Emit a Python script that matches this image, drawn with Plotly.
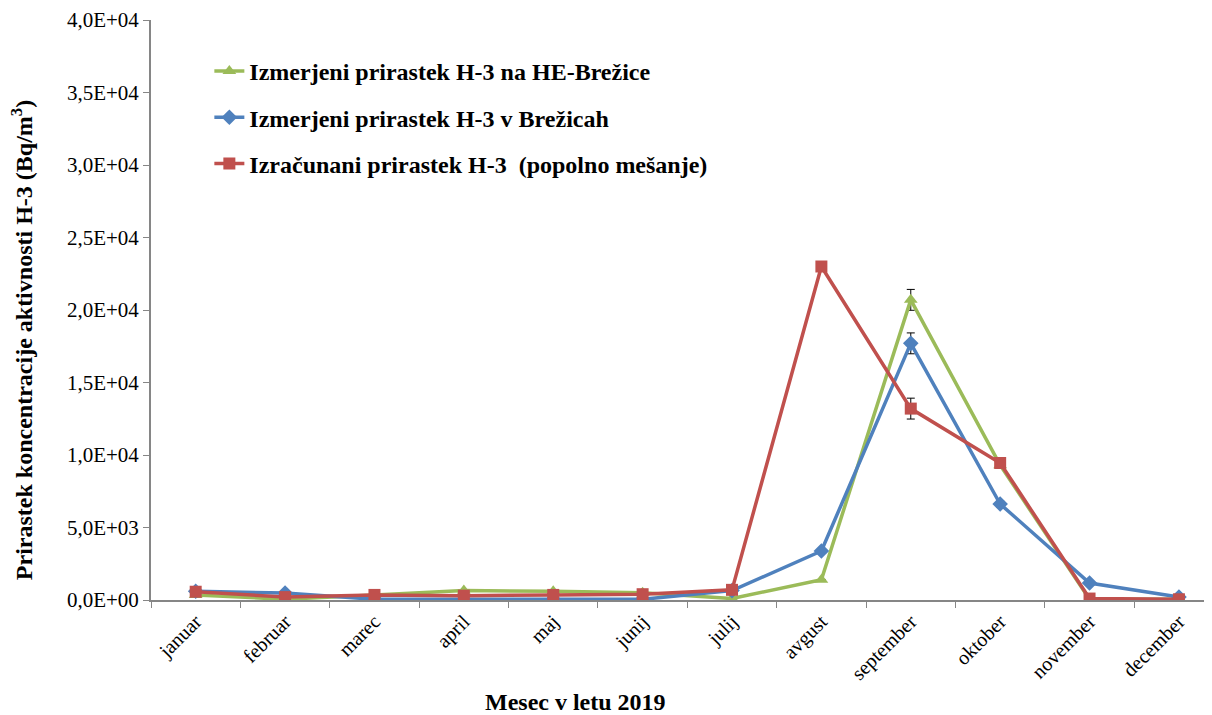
import plotly.graph_objects as go

months = ["januar", "februar", "marec", "april", "maj", "junij", "julij",
          "avgust", "september", "oktober", "november", "december"]
he_brezice = [350, 50, 350, 650, 600, 500, 100, 1400, 20700, 9300, 50, 50]
he_err = [0, 0, 0, 0, 0, 0, 0, 0, 720, 0, 0, 0]
brezice = [600, 480, 50, 30, 50, 50, 650, 3380, 17700, 6620, 1170, 200]
brezice_err = [0, 0, 0, 0, 0, 0, 0, 0, 720, 200, 0, 0]
izracunani = [570, 200, 350, 300, 350, 400, 700, 23000, 13200, 9450, 100, 50]
izracunani_err = [0, 0, 0, 0, 0, 0, 0, 0, 720, 0, 0, 0]
y_tickvals = [0, 5000, 10000, 15000, 20000, 25000, 30000, 35000, 40000]
y_ticktext = ["0,0E+00", "5,0E+03", "1,0E+04", "1,5E+04", "2,0E+04",
              "2,5E+04", "3,0E+04", "3,5E+04", "4,0E+04"]

FONT = "Times New Roman, Liberation Serif, Tinos, DejaVu Serif, serif"
fig = go.Figure()

series = [
    ("Izmerjeni prirastek H-3 na HE-Brežice", he_brezice, he_err, "#9BBB59", "triangle-up", 12),
    ("Izmerjeni prirastek H-3 v Brežicah", brezice, brezice_err, "#4F81BD", "diamond", 12),
    ("Izračunani prirastek H-3  (popolno mešanje)", izracunani, izracunani_err, "#C0504D", "square", 12),
]
for i, (name, vals, err, col, sym, sz) in enumerate(series):
    fig.add_trace(go.Scatter(
        x=months, y=vals, name=name, mode="lines+markers",
        line=dict(color=col, width=3.5),
        marker=dict(symbol=sym, size=sz, color=col),
        error_y=dict(type="data", array=err, visible=True, color="black",
                     thickness=1, width=4),
        legendgroup=f"g{i}",
    ))

fig.update_layout(
    width=1204, height=707,
    margin=dict(l=143, r=0, t=12, b=115),
    plot_bgcolor="white", paper_bgcolor="white",
    font=dict(family=FONT, color="black"),
    showlegend=True,
    legend=dict(x=0.055, y=0.95, xanchor="left", yanchor="top",
                font=dict(family=FONT, size=24, color="black", weight="bold"),
                tracegroupgap=12, bgcolor="rgba(0,0,0,0)"),
    xaxis=dict(
        type="category", range=[-0.5, 11.37],
        showline=True, linecolor="#868686", linewidth=2,
        ticks="outside", tickson="boundaries", ticklen=6, tickcolor="#868686",
        tickangle=-45, tickfont=dict(family=FONT, size=20, color="black"),
        showgrid=False, zeroline=False,
    ),
    yaxis=dict(
        range=[0, 40000], tickvals=y_tickvals, ticktext=y_ticktext,
        showline=True, linecolor="#868686", linewidth=2,
        ticks="outside", ticklen=6, tickcolor="#868686",
        tickfont=dict(family=FONT, size=21, color="black"),
        showgrid=False, zeroline=False,
    ),
    annotations=[
        dict(text="<b>Mesec v letu 2019</b>", xref="paper", yref="paper",
             x=0.40, y=-0.175, xanchor="center", yanchor="middle",
             showarrow=False, font=dict(family=FONT, size=24, color="black")),
        dict(text="<b>Prirastek koncentracije aktivnosti H-3 (Bq/m<sup>3</sup>)</b>",
             xref="paper", yref="paper", x=-0.1216, y=0.448,
             xanchor="center", yanchor="middle", textangle=-90,
             showarrow=False, font=dict(family=FONT, size=24, color="black")),
    ],
)

fig.write_html("out.html")
